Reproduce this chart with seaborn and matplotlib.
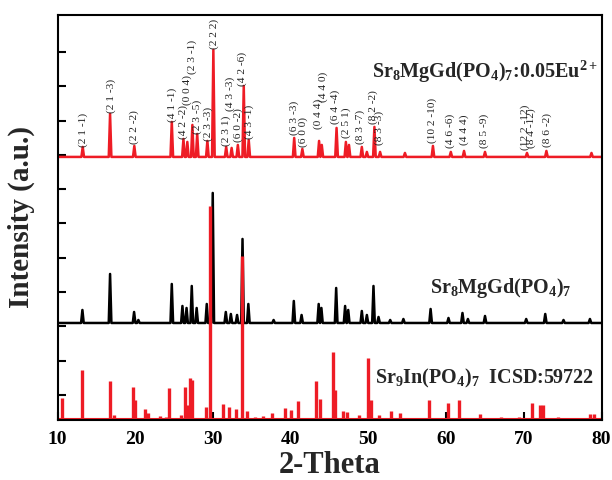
import numpy as np
import pandas as pd
import matplotlib
matplotlib.use("Agg")
import matplotlib.pyplot as plt
import seaborn as sns

# ---------------- data ----------------
# Sr8MgGd(PO4)7:0.05Eu2+ (top pattern): peak positions (2-theta) and heights
eu_pos = [13.24, 16.76, 19.88, 24.70, 26.20, 26.70, 27.35, 27.97, 29.28, 30.05,
          31.70, 32.40, 33.20, 33.96, 34.60, 40.45, 41.50, 43.65, 44.00, 45.90,
          47.10, 47.50, 49.15, 49.80, 50.77, 51.50, 54.70, 58.30, 60.60, 62.30,
          65.00, 70.40, 72.90, 78.70]
eu_int = [10, 43, 11, 35, 18, 15, 32, 23, 16, 107,
          10, 9, 12, 71, 17, 19, 8, 16, 12, 29,
          15, 12, 10, 5, 30, 5, 4, 11, 5, 6,
          5, 4, 6, 4]

# Sr8MgGd(PO4)7 (middle pattern)
host_pos = [13.20, 16.76, 19.85, 20.40, 24.70, 26.07, 26.60, 27.27, 27.90, 29.20,
            29.97, 31.65, 32.30, 33.10, 33.80, 34.55, 37.80, 40.40, 41.40, 43.60,
            43.95, 45.85, 47.00, 47.40, 49.15, 49.80, 50.65, 51.30, 52.80, 54.50,
            58.00, 60.30, 62.10, 62.80, 65.00, 70.30, 72.75, 75.10, 78.50]
host_int = [13, 49, 11, 3, 39, 17, 15, 37, 15, 19,
            130, 11, 9, 8, 84, 19, 3, 22, 8, 19,
            15, 35, 17, 13, 12, 8, 37, 6, 3, 4,
            14, 5, 10, 4, 7, 4, 9, 3, 4]

# Sr9In(PO4)7 ICSD:59722 reference sticks
ref_pos = [10.54, 13.10, 16.70, 17.30, 19.76, 19.95, 21.26, 21.60, 23.20, 24.00,
           24.40, 25.90, 26.40, 26.70, 27.10, 27.25, 29.10, 29.67, 31.30, 32.00,
           33.00, 33.70, 34.35, 35.40, 36.40, 37.60, 39.30, 40.05, 41.00, 43.27,
           43.80, 45.50, 45.70, 46.70, 47.20, 48.80, 50.00, 50.30, 51.30, 52.90,
           54.00, 57.85, 60.20, 61.70, 64.40, 67.10, 69.40, 71.00, 72.10, 72.50,
           74.40, 78.50, 79.00]
ref_int = [22, 50, 39, 5, 33, 20, 11, 7, 4, 3,
           32, 5, 33, 15, 42, 40, 13, 214, 16, 13,
           11, 164, 9, 3, 4, 7, 12, 10, 19, 39,
           21, 68, 30, 9, 8, 5, 62, 20, 5, 9,
           7, 20, 17, 20, 6, 3, 3, 17, 15, 15,
           3, 6, 6]

# Miller-index labels: text, 2-theta, vertical centre
hkl_text = ["(2 1 -1)", "(2 1 -3)", "(2 2 -2)", "(4 1 -1)", "(4 2 -2)", "(0 0 4)",
            "(2 3 -1)", "(2 3 -5)", "(2 3 -3)", "(2 2 2)", "(2 3 1)", "(4 3 -3)",
            "(6 0 -2)", "(4 2 -6)", "(4 3 -1)", "(6 3 -3)", "(6 0 0)", "(0 4 4)",
            "(4 4 0)", "(6 4 -4)", "(2 5 1)", "(8 3 -7)", "(8 2 -2)", "(8 3 -3)",
            "(10 2 -10)", "(4 6 -6)", "(4 4 4)", "(8 5 -9)", "(12 2 -12)",
            "(8 4 -12)", "(8 6 -2)"]
hkl_x = [13.24, 16.85, 19.88, 24.70, 26.19, 26.70, 27.27, 27.92, 29.41, 30.14,
         31.65, 32.20, 33.27, 33.78, 34.65, 40.44, 41.63, 43.56, 44.21, 45.71,
         47.09, 48.93, 50.57, 51.42, 58.16, 60.52, 62.36, 64.89, 70.17, 70.90,
         72.96]
hkl_y = [290, 324, 293, 315, 298, 330, 363, 303, 296, 386, 289, 326, 295, 351,
         298, 302, 288, 306, 333, 313, 297, 293, 313, 292, 299, 289, 290, 289,
         293, 292, 290]

x_ticks = [10, 20, 30, 40, 50, 60, 70, 80]

# ---------------- style ----------------
RED = "#ee1c25"
sns.set_theme(style="white")
plt.rcParams["font.family"] = ["Liberation Serif", "DejaVu Serif"]
plt.rcParams["mathtext.fontset"] = "custom"
plt.rcParams["mathtext.rm"] = "Liberation Serif:bold"
plt.rcParams["mathtext.it"] = "Liberation Serif:bold"
plt.rcParams["mathtext.bf"] = "Liberation Serif:bold"

offsets = {"eu": 263, "host": 97}
half_w = 0.17


def profile(pos, inten, offset):
    xs, ys = [10.0], [offset]
    for p, h in zip(pos, inten):
        xs += [p - half_w, p, p + half_w]
        ys += [offset, offset + h, offset]
    xs.append(80.0)
    ys.append(offset)
    return pd.DataFrame({"two_theta": xs, "intensity": ys})


fig = plt.figure(figsize=(6.12, 4.8), dpi=100)
ax = fig.add_axes([0.094, 0.125, 0.889, 0.844])

df_host = profile(host_pos, host_int, offsets["host"])
df_eu = profile(eu_pos, eu_int, offsets["eu"])

sns.lineplot(data=df_host, x="two_theta", y="intensity", color="black",
             linewidth=1.8, estimator=None, sort=False, ax=ax)
sns.lineplot(data=df_eu, x="two_theta", y="intensity", color=RED,
             linewidth=1.8, estimator=None, sort=False, ax=ax)

ax.vlines(ref_pos, 0, ref_int, color=RED, linewidth=2.4)
ax.plot([10, 80], [0.5, 0.5], color=RED, linewidth=1.5)

for t, x, y in zip(hkl_text, hkl_x, hkl_y):
    ax.text(x, y, t, rotation=90, ha="center", va="center", fontsize=8.2,
            color="#222222")

ax.text(50.45, 342, r"Sr$_{8}$MgGd(PO$_{4}$)$_{7}$:0.05Eu$^{2+}$",
        fontsize=14.5, fontweight="bold", ha="left", va="baseline")
ax.text(57.9, 127, r"Sr$_{8}$MgGd(PO$_{4}$)$_{7}$",
        fontsize=14.5, fontweight="bold", ha="left", va="baseline")
ax.text(50.85, 37, r"Sr$_{9}$In(PO$_{4}$)$_{7}$  ICSD:59722",
        fontsize=14.5, fontweight="bold", ha="left", va="baseline")

ax.set_xlim(10, 80)
ax.set_ylim(0, 405)
ax.set_xticks(x_ticks)
ax.set_xticklabels([str(v) for v in x_ticks], fontsize=14, fontweight="bold")
ax.set_yticks(np.arange(25, 400, 34.3))
ax.set_yticklabels([])
ax.tick_params(axis="both", direction="in", length=6, width=1.5, colors="black",
               left=True, bottom=True, pad=8)
ax.tick_params(axis="x", labelsize=14)
for s in ax.spines.values():
    s.set_linewidth(1.5)
    s.set_color("black")

ax.set_xlabel("2-Theta", fontsize=22, fontweight="bold", labelpad=2)
ax.set_ylabel("Intensity (a.u.)", fontsize=21, fontweight="bold", labelpad=8)

fig.savefig("out.png", dpi=100)
